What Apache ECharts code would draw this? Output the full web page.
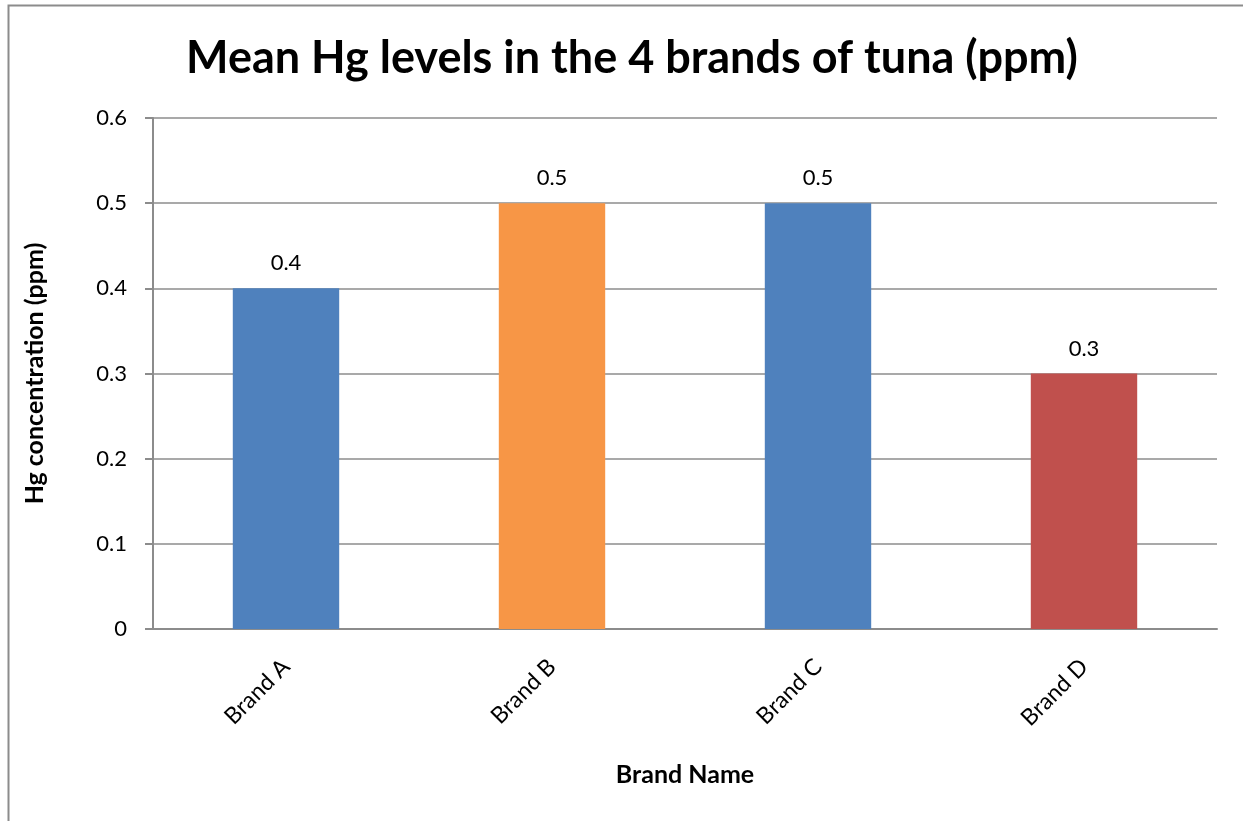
<!DOCTYPE html>
<html lang="en">
<head>
    <meta charset="UTF-8">
    <title>Mean Hg levels in the 4 brands of tuna</title>
    <style>
        *{
            margin: 0;
            padding: 0;
        }
        body,html{
            width: 100%;
            height: 100%;
            background: #fff;
        }
        #main{
            width: 1243px;
            height: 821px;
        }
    </style>
</head>
<body>

<div id="main"></div>

<script src="https://cdn.jsdelivr.net/npm/echarts@6/dist/echarts.min.js"></script>
<script type="text/javascript">
    // data
    var brands = ['Brand A', 'Brand B', 'Brand C', 'Brand D'];
    var meanHg = [0.4, 0.5, 0.5, 0.3];
    var yTicks = [0, 0.1, 0.2, 0.3, 0.4, 0.5, 0.6];

    // one colour per bar, as in the original
    var barColors = ['#4F81BD', '#F79646', '#4F81BD', '#C0504D'];

    var font = 'Lato, Calibri, sans-serif';

    var myChart = echarts.init(document.getElementById('main'));

    var option = {
        animation: false,
        textStyle: {fontFamily: font},
        title: {
            text: 'Mean Hg levels in the 4 brands of tuna (ppm)',
            left: 627,
            textAlign: 'center',
            top: 31,
            textStyle: {
                fontFamily: font,
                fontSize: 45,
                fontWeight: 'bold',
                color: '#000'
            }
        },
        graphic: [{
            // outer chart border
            type: 'rect',
            shape: {x: 8.5, y: 5.5, width: 1400, height: 1000},
            style: {fill: 'none', stroke: '#8c8c8c', lineWidth: 2},
            silent: true
        }],
        grid: {
            left: 153,
            right: 26,
            top: 118,
            bottom: 192
        },
        xAxis: {
            type: 'category',
            data: brands,
            name: 'Brand Name',
            nameLocation: 'middle',
            nameGap: 133,
            nameTextStyle: {
                fontFamily: font,
                fontSize: 25,
                fontWeight: 'bold',
                color: '#000'
            },
            axisLine: {lineStyle: {color: '#8c8c8c', width: 2}},
            axisTick: {show: false},
            axisLabel: {
                rotate: 45,
                margin: 34,
                fontSize: 23,
                color: '#000',
                fontFamily: font
            }
        },
        yAxis: {
            type: 'value',
            min: yTicks[0],
            max: yTicks[yTicks.length - 1],
            interval: 0.1,
            name: 'Hg concentration (ppm)',
            nameLocation: 'middle',
            nameGap: 106,
            nameTextStyle: {
                fontFamily: font,
                fontSize: 25,
                fontWeight: 'bold',
                color: '#000'
            },
            axisLine: {show: true, lineStyle: {color: '#8c8c8c', width: 2}},
            axisTick: {show: true, length: 8, lineStyle: {color: '#8c8c8c', width: 2}},
            splitLine: {lineStyle: {color: '#8c8c8c', width: 1.5}},
            axisLabel: {
                margin: 26,
                fontSize: 22,
                color: '#000',
                fontFamily: font,
                formatter: function (v) { return String(+v.toFixed(1)); }
            }
        },
        series: [{
            type: 'bar',
            barWidth: '40%',
            data: meanHg.map(function (v, i) {
                return {value: v, itemStyle: {color: barColors[i]}};
            }),
            label: {
                show: true,
                position: 'top',
                distance: 14,
                fontSize: 22,
                color: '#000',
                fontFamily: font
            }
        }]
    };

    myChart.setOption(option);
</script>
</body>
</html>
